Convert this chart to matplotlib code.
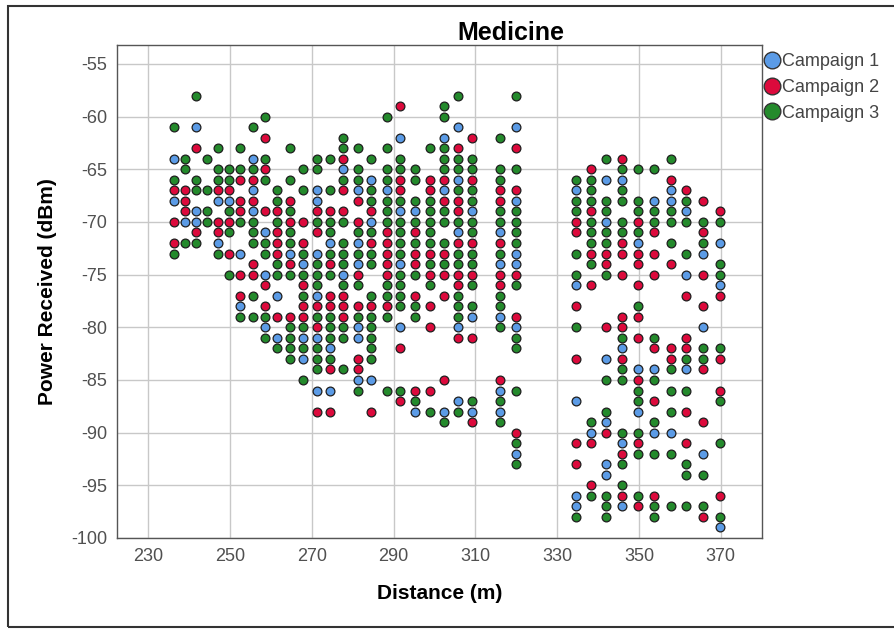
import matplotlib
matplotlib.use('Agg')
import matplotlib.pyplot as plt
from matplotlib.lines import Line2D
from matplotlib.patches import Rectangle
import numpy as np

plt.rcParams['font.family'] = ['Liberation Sans', 'DejaVu Sans']
plt.rcParams['axes.unicode_minus'] = False

# distance of each measurement column (m)
distance = [236.4, 239.0, 241.7, 244.3, 247.0, 249.7, 252.5, 255.6, 258.5, 261.4,
            264.6, 267.8, 271.2, 274.4, 277.6, 281.2, 284.4, 288.3, 291.5, 295.2,
            298.9, 302.3, 305.8, 309.1, 316.0, 319.9,
            334.7, 338.3, 342.0, 345.9, 349.8, 353.6, 357.7, 361.5, 365.7, 369.7]

# readings per column: "<-dBm>:<campaign>"
readings = [
    "61:3 64:1 66:3 67:2 68:1 70:2 72:2 73:3",
    "64:3 65:3 67:2 68:2 69:2 70:1 72:3",
    "58:3 61:1 63:2 66:3 67:3 69:1 70:1 71:2 72:3",
    "64:3 67:3 69:3 70:3",
    "63:3 65:3 66:3 67:2 68:1 70:2 71:2 72:1 73:3",
    "65:3 66:3 67:2 68:1 69:3 70:2 71:3 73:2 75:3",
    "63:3 65:3 66:2 68:2 69:2 70:3 73:1 75:2 77:2 78:1 79:3",
    "61:3 64:1 65:3 66:2 67:1 68:2 69:1 70:3 71:3 72:3 74:2 75:2 77:3 79:3",
    "60:3 62:2 64:3 65:2 66:3 69:2 71:1 72:3 73:3 75:1 76:2 78:2 79:3 80:1 81:3",
    "67:3 68:3 69:2 70:3 71:2 72:2 73:2 74:3 75:3 77:1 79:2 81:1 82:3",
    "63:3 66:3 68:2 69:3 70:2 71:3 72:3 73:1 74:2 75:3 79:2 80:3 81:3 82:3 83:3",
    "65:3 67:3 70:2 72:2 73:3 74:1 75:3 76:2 77:3 78:2 79:2 80:3 81:1 82:3 83:1 85:3",
    "64:3 65:3 67:1 68:1 69:2 70:3 71:2 73:1 74:3 75:3 76:3 77:1 78:2 79:3 80:2 81:1 82:3 83:3 84:3 86:1 88:2",
    "64:3 67:3 69:2 70:3 71:3 72:1 73:3 74:2 75:3 77:2 78:2 79:3 80:3 81:3 82:1 83:3 84:2 86:1 88:2",
    "62:3 63:3 64:2 65:1 66:3 67:2 69:2 70:3 72:3 73:3 74:3 75:1 76:3 77:2 78:2 79:2 80:3 81:3 84:3",
    "63:3 65:3 66:3 67:1 68:2 70:2 71:3 72:1 73:3 74:1 75:2 76:3 78:2 79:3 80:1 81:1 83:2 84:2 85:1 86:3",
    "64:3 66:1 67:3 68:3 69:2 70:1 71:3 72:2 73:3 74:3 77:3 78:2 79:3 80:3 81:3 82:3 83:3 85:1 88:2",
    "60:3 63:3 65:3 66:3 67:1 68:3 69:3 70:3 71:2 72:2 73:2 74:2 75:2 76:3 77:3 78:2 79:3 86:3",
    "59:2 62:1 64:3 65:3 66:2 67:2 68:3 69:1 70:3 71:3 72:3 73:3 74:1 75:3 76:3 77:3 78:3 80:1 82:2 86:3 87:2",
    "65:3 66:3 68:3 69:1 70:3 71:2 72:3 73:2 74:2 75:3 77:2 78:3 79:3 86:2 87:3 88:1",
    "63:3 66:2 67:2 68:3 69:3 70:3 71:3 72:3 73:2 74:3 75:2 76:3 78:2 80:2 86:2 88:3",
    "59:3 60:3 62:1 63:3 64:3 65:3 66:2 67:1 68:2 69:3 70:3 72:3 73:2 74:3 75:2 77:2 85:2 88:1 89:3",
    "58:3 61:1 63:2 64:3 65:3 66:1 67:3 68:2 69:2 70:3 71:1 72:2 73:3 74:3 75:2 76:2 77:3 78:3 79:3 80:1 81:2 87:1 88:3",
    "62:2 64:3 65:3 66:2 67:3 68:3 69:1 70:3 71:3 72:2 73:3 74:3 75:2 76:3 78:3 79:1 81:2 87:3 88:1 89:2",
    "62:3 65:3 66:3 67:2 68:2 69:3 70:3 71:1 72:2 73:3 74:1 75:2 76:2 77:3 78:3 79:1 80:3 85:2 86:1 87:3 88:1 89:3",
    "58:3 61:1 63:2 65:3 67:2 68:1 69:3 70:3 71:3 72:3 73:1 74:1 75:2 76:3 79:2 80:1 81:3 82:3 86:3 90:2 91:3 92:1 93:3",
    "66:3 67:1 68:3 69:3 70:2 71:2 73:3 75:3 76:1 78:2 80:3 83:2 87:1 91:2 93:2 96:1 97:1 98:3",
    "65:2 66:3 67:3 68:3 69:2 70:3 71:3 72:3 73:2 74:3 76:2 89:3 90:1 91:2 95:2 96:3",
    "64:3 66:1 68:3 69:3 70:1 71:3 72:3 73:2 74:2 75:3 80:2 83:1 85:3 88:3 89:1 90:2 93:1 94:1 96:3 97:3 98:3",
    "64:2 65:3 66:1 67:3 68:3 70:3 71:3 72:2 73:2 75:2 79:2 80:2 81:3 82:1 83:2 84:3 85:3 90:3 91:1 92:2 93:3 95:3 96:2 97:1",
    "65:3 68:3 69:3 70:2 71:3 72:1 73:2 74:2 76:2 78:3 79:2 81:2 84:1 85:2 86:3 87:3 88:1 90:3 91:2 92:3 96:3 97:2",
    "65:3 68:1 69:3 70:3 71:2 73:2 75:2 81:3 82:2 84:1 85:3 87:2 89:3 90:1 92:3 96:2 97:3 98:3",
    "64:3 66:2 67:1 68:1 69:3 70:3 72:3 74:2 82:2 83:2 84:3 86:3 88:3 90:1 92:3 97:3",
    "67:2 68:3 69:1 70:3 73:3 75:1 77:2 81:2 82:2 83:3 84:1 86:3 88:2 91:2 93:3 94:3 97:3",
    "68:2 70:3 71:2 72:3 73:1 75:2 78:2 80:1 82:3 83:3 84:2 89:2 92:1 94:3 97:3 98:2",
    "69:2 70:3 72:1 74:3 75:3 76:1 77:2 82:3 83:2 86:2 87:3 91:3 96:2 98:3 99:1",
]

campaigns = ['Campaign 1', 'Campaign 2', 'Campaign 3']
colors = ['#5b9be6', '#dc0a3c', '#248a2c']

# split into per-campaign arrays
xs = {1: [], 2: [], 3: []}
ys = {1: [], 2: [], 3: []}
for d, col in zip(distance, readings):
    for tok in col.split():
        v, c = tok.split(':')
        xs[int(c)].append(d)
        ys[int(c)].append(-float(v))

fig = plt.figure(figsize=(8.95, 6.29), dpi=100)
ax = fig.add_axes([0.1304, 0.1447, 0.7207, 0.7838])

for i in (1, 2, 3):
    ax.scatter(xs[i], ys[i], s=40, c=colors[i - 1], edgecolors='#1e1e1e',
               linewidths=0.9, zorder=3)

ax.set_xlim(222.3, 380)
ax.set_ylim(-100, -53.2)
ax.set_xticks(np.arange(230, 371, 20))
ax.set_yticks(np.arange(-100, -54, 5))
ax.grid(True, color='#c8c8c8', linewidth=1.0)
ax.set_axisbelow(True)
ax.tick_params(length=0, labelsize=13, labelcolor='#505050', pad=7)
for sp in ax.spines.values():
    sp.set_color('#555555')
    sp.set_linewidth(1.0)

ax.set_xlabel('Distance (m)', fontsize=15, fontweight='bold', labelpad=14)
ax.set_ylabel('Power Received (dBm)', fontsize=15, fontweight='bold', labelpad=10)
fig.text(511 / 895, 1 - 33 / 629, 'Medicine', fontsize=18, fontweight='bold',
         ha='center', va='center')

handles = [Line2D([], [], marker='o', linestyle='none', markersize=12,
                  markerfacecolor=colors[i], markeredgecolor='#333333',
                  markeredgewidth=1.0) for i in range(3)]
fig.legend(handles, campaigns, loc='upper left', bbox_to_anchor=(0.853, 0.915),
           frameon=False, fontsize=13, labelcolor='#444444', handlelength=0.9,
           handletextpad=0.15, borderpad=0, borderaxespad=0, labelspacing=0.48)

# outer frame (open to the right, like the cropped original)
fig.patches.append(Rectangle((8 / 895, 2 / 629), 1.2, 1 - 8 / 629,
                             transform=fig.transFigure, fill=False,
                             edgecolor='#333333', linewidth=1.5))

fig.savefig('out.png', dpi=100)
